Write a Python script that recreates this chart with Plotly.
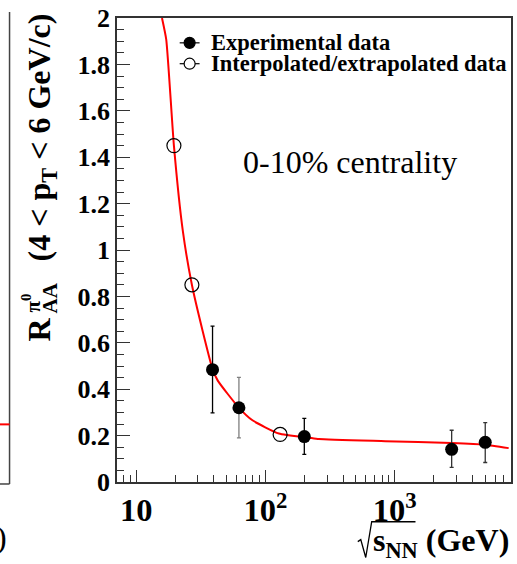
import plotly.graph_objects as go

# ---- data -------------------------------------------------------------
# Experimental points: sqrt(s_NN) [GeV], R_AA, asymmetric errors
exp_energy = [39, 62.4, 200, 2760, 5020]
exp_raa = [0.484, 0.32, 0.196, 0.141, 0.171]
exp_err_up = [0.188, 0.131, 0.078, 0.082, 0.085]
exp_err_dn = [0.186, 0.130, 0.077, 0.078, 0.087]
exp_err_color = ["#000000", "#7f7f7f", "#000000", "#333333", "#333333"]

# Interpolated / extrapolated points
interp_energy = [19.6, 27, 130]
interp_raa = [1.45, 0.85, 0.205]

# Fit curve sampled along sqrt(s_NN)
fit_energy = [15.85, 17.1, 19.6, 23.0, 27, 32.7, 39, 42.8,
              62, 79.4, 127, 217, 259, 847, 2760, 4955, 7620]
fit_raa = [2.0, 1.907, 1.45, 1.08, 0.85, 0.651, 0.487, 0.437,
           0.322, 0.266, 0.209, 0.191, 0.185, 0.176, 0.168, 0.161, 0.146]

# ---- geometry ---------------------------------------------------------
W, H = 517, 564
L, R, T, B = 117, 4, 15, 82
PW, PH = W - L - R, H - T - B


def px(x):
    return (x - L) / PW


def py(y):
    return (T + PH - y) / PH


SERIF = "Liberation Serif"
AXC = "#333333"

fig = go.Figure()

# fit curve
fig.add_trace(go.Scatter(
    x=fit_energy, y=fit_raa, mode="lines",
    line=dict(color="#ff0000", width=2, shape="spline", smoothing=0.5),
    showlegend=False, hoverinfo="skip"))

# experimental points, each with its own error-bar shade
for e, v, up, dn, c in zip(exp_energy, exp_raa, exp_err_up, exp_err_dn, exp_err_color):
    fig.add_trace(go.Scatter(
        x=[e], y=[v], mode="markers",
        marker=dict(symbol="circle", size=13, color="black"),
        error_y=dict(type="data", symmetric=False, array=[up], arrayminus=[dn],
                     color=c, thickness=1.3, width=2),
        showlegend=False))

# interpolated / extrapolated points
fig.add_trace(go.Scatter(
    x=interp_energy, y=interp_raa, mode="markers",
    marker=dict(symbol="circle-open", size=14, color="black", line=dict(width=1.2)),
    showlegend=False))

shapes = []
annotations = []

# legend (drawn by hand, ROOT style)
legend_rows = [("Experimental data", True, 40), ("Interpolated/extrapolated data", False, 61)]
for label, filled, yc in legend_rows:
    shapes.append(dict(type="line", xref="paper", yref="paper",
                       x0=px(180), x1=px(200), y0=py(yc), y1=py(yc),
                       line=dict(color="black", width=1.2)))
    shapes.append(dict(type="circle", xref="paper", yref="paper",
                       xsizemode="pixel", ysizemode="pixel",
                       xanchor=px(190), yanchor=py(yc),
                       x0=-5.5, x1=5.5, y0=-5.5, y1=5.5,
                       fillcolor="black" if filled else "white",
                       line=dict(color="black", width=1.2)))
    annotations.append(dict(text=label, xref="paper", yref="paper",
                            x=px(209), y=py(yc), xanchor="left", yanchor="middle",
                            showarrow=False,
                            font=dict(family=SERIF, size=22.5, color="black", weight="bold")))

# centrality label
annotations.append(dict(text="0-10% centrality", xref="paper", yref="paper",
                        x=px(351), y=py(160), xanchor="center", yanchor="middle",
                        showarrow=False, font=dict(family=SERIF, size=32, color="black")))

# y-axis title, built from stacked pieces
title_font = dict(family=SERIF, size=32, color="black", weight="bold")
small_font = dict(family=SERIF, size=21, color="black", weight="bold")
annotations.append(dict(text="R", xref="paper", yref="paper", textangle=-90,
                        x=px(39), y=py(328), xanchor="center", yanchor="middle",
                        showarrow=False, font=title_font))
annotations.append(dict(text="π<sup>0</sup>", xref="paper", yref="paper", textangle=-90,
                        x=px(31), y=py(302), xanchor="center", yanchor="middle",
                        showarrow=False, font=small_font))
annotations.append(dict(text="AA", xref="paper", yref="paper", textangle=-90,
                        x=px(50), y=py(297), xanchor="center", yanchor="middle",
                        showarrow=False, font=small_font))
annotations.append(dict(text="(4 < p<sub>T</sub> < 6 GeV/c)", xref="paper", yref="paper",
                        textangle=-90, x=px(41), y=py(8), xanchor="center", yanchor="top",
                        showarrow=False, font=title_font))

# x-axis title: sqrt(s_NN) (GeV)
annotations.append(dict(text="s<sub>NN</sub> (GeV)", xref="paper", yref="paper",
                        x=px(513), y=py(543), xanchor="right", yanchor="middle",
                        showarrow=False, font=title_font))
rad = [(359, 542), (362, 540), (367, 558), (373, 522), (417, 522)]
path = "M " + " L ".join(f"{px(a):.5f},{py(b):.5f}" for a, b in rad)
shapes.append(dict(type="path", xref="paper", yref="paper", path=path,
                   line=dict(color="black", width=1.3)))

# neighbouring panel edge on the far left
shapes.append(dict(type="line", xref="paper", yref="paper",
                   x0=px(9), x1=px(9), y0=py(9), y1=py(484),
                   line=dict(color="#444444", width=1.5)))
shapes.append(dict(type="line", xref="paper", yref="paper",
                   x0=px(-2), x1=px(9), y0=py(424), y1=py(424),
                   line=dict(color="#ff0000", width=2)))
shapes.append(dict(type="line", xref="paper", yref="paper",
                   x0=px(-2), x1=px(9), y0=py(484), y1=py(484),
                   line=dict(color="#444444", width=1.5)))
annotations.append(dict(text=")", xref="paper", yref="paper",
                        x=px(8), y=py(537), xanchor="right", yanchor="middle",
                        showarrow=False, font=dict(family=SERIF, size=32, color="black")))

fig.update_layout(
    width=W, height=H,
    margin=dict(l=L, r=R, t=T, b=B),
    paper_bgcolor="white", plot_bgcolor="white",
    shapes=shapes, annotations=annotations,
    showlegend=False,
    xaxis=dict(
        type="log", range=[0.852, 3.9], dtick=1, exponentformat="power",
        showgrid=False, zeroline=False,
        showline=True, linecolor=AXC, linewidth=1.5, mirror=True,
        ticks="inside", ticklen=12, tickwidth=1.2, tickcolor=AXC,
        minor=dict(ticks="inside", ticklen=7, tickwidth=1, tickcolor=AXC, dtick="D1", showgrid=False),
        tickfont=dict(family=SERIF, size=26, color="black", weight="bold"),
        ticklabelstandoff=0,
    ),
    yaxis=dict(
        range=[0, 2], dtick=0.2, tick0=0,
        showgrid=False, zeroline=False,
        showline=True, linecolor=AXC, linewidth=1.5, mirror=True,
        ticks="inside", ticklen=13, tickwidth=1.2, tickcolor=AXC,
        minor=dict(ticks="inside", ticklen=7, tickwidth=1, tickcolor=AXC, dtick=0.05, showgrid=False),
        tickfont=dict(family=SERIF, size=26, color="black", weight="bold"),
    ),
)

fig.write_html("out.html")
